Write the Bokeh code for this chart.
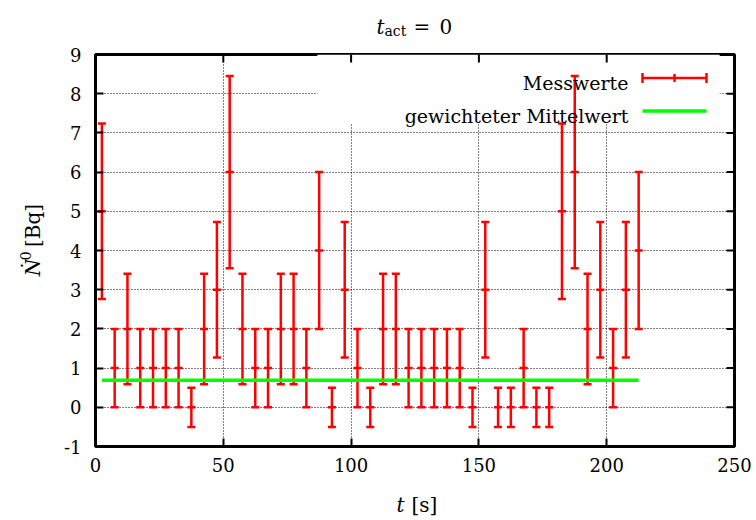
import math
from bokeh.plotting import figure
from bokeh.models import Label, Arrow, TeeHead, BoxAnnotation, FixedTicker, Range1d
from bokeh.layouts import column, row
from bokeh.embed import file_html
from bokeh.resources import INLINE

# ---- data ----
t_s = [2.5, 7.5, 12.5, 17.5, 22.5, 27.5, 32.5, 37.5, 42.5, 47.5,
       52.5, 57.5, 62.5, 67.5, 72.5, 77.5, 82.5, 87.5, 92.5, 97.5,
       102.5, 107.5, 112.5, 117.5, 122.5, 127.5, 132.5, 137.5, 142.5, 147.5,
       152.5, 157.5, 162.5, 167.5, 172.5, 177.5, 182.5, 187.5, 192.5, 197.5,
       202.5, 207.5, 212.5]
messwerte = [5, 1, 2, 1, 1, 1, 1, 0, 2, 3,
             6, 2, 1, 1, 2, 2, 1, 4, 0, 3,
             1, 0, 2, 2, 1, 1, 1, 1, 1, 0,
             3, 0, 0, 1, 0, 0, 5, 6, 2, 3,
             1, 3, 4]
fehler = [2.24, 1.0, 1.41, 1.0, 1.0, 1.0, 1.0, 0.5, 1.41, 1.73,
          2.45, 1.41, 1.0, 1.0, 1.41, 1.41, 1.0, 2.0, 0.5, 1.73,
          1.0, 0.5, 1.41, 1.41, 1.0, 1.0, 1.0, 1.0, 1.0, 0.5,
          1.73, 0.5, 0.5, 1.0, 0.5, 0.5, 2.24, 2.45, 1.41, 1.73,
          1.0, 1.73, 2.0]
mittelwert = 0.69
x_ticks = [0, 50, 100, 150, 200, 250]
y_ticks = [-1, 0, 1, 2, 3, 4, 5, 6, 7, 8, 9]
y_tick_labels = {-1: "-1"}

lo = [v - e for v, e in zip(messwerte, fehler)]
hi = [v + e for v, e in zip(messwerte, fehler)]

FONT = "DejaVu Serif"
RED = "#ff0000"
GREEN = "#00ff00"

W, H = 756, 520
TOP_H, BOT_H, LEFT_W = 40, 40, 50
MAIN_W, MAIN_H = W - LEFT_W, H - TOP_H - BOT_H
# frame position inside the whole canvas
F_LEFT, F_RIGHT, F_TOP, F_BOTTOM = 95, 734, 54, 446


def text_fig(w, h):
    f = figure(width=w, height=h, output_backend="svg", toolbar_location=None,
               x_range=Range1d(0, w), y_range=Range1d(h, 0),
               x_axis_location=None, y_axis_location=None,
               min_border=0, min_border_left=0, min_border_right=0,
               min_border_top=0, min_border_bottom=0)
    f.grid.visible = False
    f.outline_line_color = None
    f.background_fill_color = "white"
    f.border_fill_color = "white"
    return f


def put(f, text, x, y, size="19px", style="normal", align="left", angle=0.0,
        units="data"):
    f.add_layout(Label(x=x, y=y, x_units=units, y_units=units, text=text,
                       text_font=FONT, text_font_size=size,
                       text_font_style=style, text_align=align,
                       text_baseline="alphabetic", text_color="black",
                       angle=angle))


# ---------------- main plot ----------------
p = figure(width=MAIN_W, height=MAIN_H, output_backend="svg",
           toolbar_location=None,
           x_range=Range1d(x_ticks[0], x_ticks[-1]),
           y_range=Range1d(y_ticks[0], y_ticks[-1]),
           min_border_left=F_LEFT - LEFT_W, min_border_right=W - F_RIGHT,
           min_border_top=F_TOP - TOP_H, min_border_bottom=TOP_H + MAIN_H - F_BOTTOM)
p.background_fill_color = "white"
p.border_fill_color = "white"
p.outline_line_color = "black"
p.outline_line_width = 3

for ax in (p.xaxis[0], p.yaxis[0]):
    ax.axis_line_color = None
    ax.major_tick_in = 8
    ax.major_tick_out = 0
    ax.major_tick_line_width = 2
    ax.major_tick_line_color = "black"
    ax.minor_tick_line_color = None
    ax.major_label_text_font = FONT
    ax.major_label_text_font_size = "18px"
    ax.major_label_text_color = "black"
p.xaxis.ticker = FixedTicker(ticks=x_ticks)
p.yaxis.ticker = FixedTicker(ticks=y_ticks)
p.yaxis.major_label_overrides = y_tick_labels
p.xaxis.major_label_standoff = 11
p.yaxis.major_label_standoff = 14

p.xgrid.ticker = FixedTicker(ticks=x_ticks)
p.ygrid.ticker = FixedTicker(ticks=y_ticks)
for g in (p.xgrid[0], p.ygrid[0]):
    g.grid_line_color = "black"
    g.grid_line_alpha = 1.0
    g.grid_line_dash = "1 2"
    g.grid_line_width = 1
    g.level = "image"

# white key area hiding the grid behind the legend
p.add_layout(BoxAnnotation(left=86.8, right=244.2, bottom=7.25, top=y_ticks[-1],
                           fill_color="white", fill_alpha=1.0, line_color=None,
                           level="underlay"))

# mirrored ticks on top and right border (half clipped by the frame)
p.scatter(x=x_ticks, y=[y_ticks[-1]] * len(x_ticks), marker="dash",
          angle=math.pi / 2, size=16, line_color="black", line_width=2)
p.scatter(x=[x_ticks[-1]] * len(y_ticks), y=y_ticks, marker="dash",
          size=16, line_color="black", line_width=2)

# error bars
p.segment(x0=t_s, y0=lo, x1=t_s, y1=hi, line_color=RED, line_width=2.5)
for ys in (lo, hi, messwerte):
    p.scatter(x=t_s, y=ys, marker="dash", size=8, line_color=RED,
              line_width=2.5, fill_color=None)

# weighted mean
p.line(x=[t_s[0], t_s[-1]], y=[mittelwert, mittelwert], line_color=GREEN,
       line_width=3.5)


# legend (screen units relative to the frame)
def fx(cx):
    return cx - F_LEFT


def fy(cy):
    return F_BOTTOM - cy


put(p, "Messwerte", fx(628), fy(82), align="right", units="screen")
put(p, "gewichteter Mittelwert", fx(628), fy(115), align="right", units="screen")
tee = dict(size=10, line_color=RED, line_width=2.5)
p.add_layout(Arrow(x_start=fx(642), y_start=fy(77.5), x_end=fx(706), y_end=fy(77.5),
                   start_units="screen", end_units="screen",
                   start=TeeHead(**tee), end=TeeHead(**tee),
                   line_color=RED, line_width=2.5))
p.add_layout(Arrow(x_start=fx(674), y_start=fy(73.5), x_end=fx(674), y_end=fy(81.5),
                   start_units="screen", end_units="screen", end=None,
                   line_color=RED, line_width=2.5))
p.add_layout(Arrow(x_start=fx(642), y_start=fy(110.5), x_end=fx(706), y_end=fy(110.5),
                   start_units="screen", end_units="screen", end=None,
                   line_color=GREEN, line_width=3.5))

# ---------------- title ----------------
tf = text_fig(W, TOP_H)
put(tf, "t", 376, 26, size="20px", style="italic")
put(tf, "act", 384, 30, size="14px")
put(tf, "=", 413, 26, size="20px")
put(tf, "0", 439, 26, size="20px")

# ---------------- x label ----------------
xf = text_fig(W, BOT_H)
put(xf, "t", 396, 24, size="20px", style="italic")
put(xf, "[s]", 411, 24, size="20px")

# ---------------- y label ----------------
yf = text_fig(LEFT_W, MAIN_H)
put(yf, "\u1e44", 32, 289 - TOP_H, size="20px", style="italic", angle=math.pi / 2)
put(yf, "0", 25, 271 - TOP_H, size="14px", angle=math.pi / 2)
put(yf, "[Bq]", 32, 256 - TOP_H, size="20px", angle=math.pi / 2)

layout = column(tf, row(yf, p, spacing=0), xf, spacing=0)

open("out.html", "w").write(file_html(layout, INLINE))
